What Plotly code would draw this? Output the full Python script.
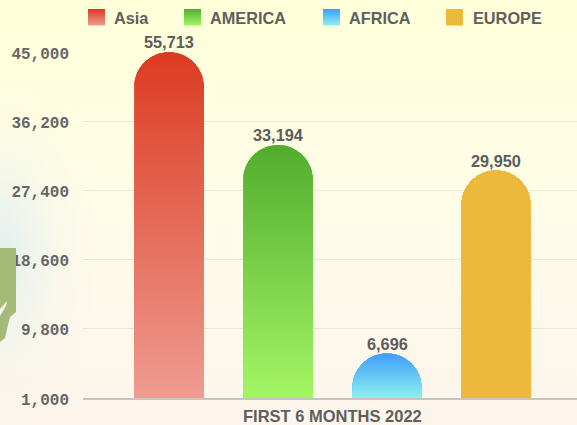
import base64
import numpy as np
import plotly.graph_objects as go

# ---- data ----
categories = ["Asia", "AMERICA", "AFRICA", "EUROPE"]
values = [55713, 33194, 6696, 29950]
tick_values = [1000, 9800, 18600, 27400, 36200, 45000]
x_title = "FIRST 6 MONTHS 2022"

top_colors = ["#dc3b21", "#52ac2e", "#3f9dfb", "#edb93d"]
bottom_colors = ["#ef9c91", "#a5f665", "#8cf1f0", "#edb93d"]
mid_colors = ["#e56a57", "#79cf49", "#66c6f5", "#edb93d"]

W, H = 577, 425
PL, PT, PB = 83, 52, 398       # plot box in pixels
STEP = 109                     # pixels between bars
BAR_W = 70
FIRST = 169
Y_MIN, Y_MAX = tick_values[0], tick_values[-1]
shown = [min(v, Y_MAX) for v in values]

x_lo = (PL - FIRST) / STEP
x_hi = (W - FIRST) / STEP
ux = 1 / STEP
uy = (Y_MAX - Y_MIN) / (PB - PT)

svg = f'''<svg xmlns="http://www.w3.org/2000/svg" width="{W}" height="{H}">
<defs>
<linearGradient id="a" x1="0" y1="0" x2="0" y2="1">
<stop offset="0" stop-color="#ffffd9"/><stop offset="0.5" stop-color="#fffce8"/><stop offset="1" stop-color="#fdf5ec"/>
</linearGradient>
<radialGradient id="b" gradientUnits="userSpaceOnUse" cx="0" cy="0" r="100" gradientTransform="translate(0,255) scale(1,1.8)">
<stop offset="0" stop-color="#e3eff0" stop-opacity="1"/><stop offset="0.3" stop-color="#e3eff0" stop-opacity="0.55"/>
<stop offset="0.6" stop-color="#e3eff0" stop-opacity="0.2"/><stop offset="1" stop-color="#e3eff0" stop-opacity="0"/>
</radialGradient>
</defs>
<rect width="{W}" height="{H}" fill="url(#a)"/><rect width="{W}" height="{H}" fill="url(#b)"/>
</svg>'''
bg = "data:image/svg+xml;base64," + base64.b64encode(svg.encode()).decode()

fig = go.Figure()

fig.add_trace(go.Bar(
    x=list(range(len(categories))), y=shown,
    width=BAR_W / STEP,
    marker=dict(color=mid_colors, cornerradius=35, line=dict(width=0)),
    hovertext=categories, showlegend=False,
))

theta = np.linspace(np.pi, 0, 61)
for i, s in enumerate(shown):
    if top_colors[i] == bottom_colors[i]:
        continue
    r = BAR_W / 2
    xs = i + r * ux * np.cos(theta)
    ys = s - r * uy + r * uy * np.sin(theta)
    px = [i - r * ux, *xs, i + r * ux, i - r * ux]
    py = [Y_MIN, *ys, Y_MIN, Y_MIN]
    fig.add_trace(go.Scatter(
        x=px, y=py, mode="lines", line=dict(width=0), fill="toself",
        fillgradient=dict(type="vertical",
                          colorscale=[[0, bottom_colors[i]], [1, top_colors[i]]]),
        hoverinfo="skip", showlegend=False,
    ))

# legend swatches on a full-page pixel axis
swatch_x = [88, 184, 323, 446]
text_x = [112, 208, 347, 471]
annotations = []
for i, c in enumerate(categories):
    x0, x1, y0, y1 = swatch_x[i], swatch_x[i] + 17, 9, 25.5
    fig.add_trace(go.Scatter(
        x=[x0, x1, x1, x0, x0], y=[y0, y0, y1, y1, y0], xaxis="x2", yaxis="y2",
        mode="lines", line=dict(width=0), fill="toself",
        fillgradient=dict(type="vertical",
                          colorscale=[[0, bottom_colors[i]], [1, top_colors[i]]]),
        hoverinfo="skip", showlegend=False,
    ))
    annotations.append(dict(
        x=text_x[i] / W, y=1 - 18 / H, xref="paper", yref="paper", xanchor="left", yanchor="middle",
        text=f"<b>{c}</b>", showarrow=False,
        font=dict(family="Liberation Sans", size=16.3, color="#5f5f5f"),
    ))
    annotations.append(dict(
        x=i, y=shown[i], xref="x", yref="y", xanchor="center", yanchor="bottom", yshift=-1.5,
        text=f"<b>{values[i]:,}</b>", showarrow=False,
        font=dict(family="Liberation Sans", size=16.3, color="#5c5c5c"),
    ))
annotations.append(dict(
    x=332.5 / W, y=1 - 416 / H, xref="paper", yref="paper", xanchor="center", yanchor="middle",
    text=f"<b>{x_title}</b>", showarrow=False,
    font=dict(family="Liberation Sans", size=16.5, color="#5f5f5f"),
))

shapes = [
    dict(type="path", xref="x2", yref="y2", layer="below", line=dict(width=0), fillcolor="#a4bb78",
         path="M0,248 L16,248 L16,312 L10,317 L8,325 L5,338 L0,342 Z"),
    dict(type="path", xref="x2", yref="y2", layer="below", line=dict(width=0), fillcolor="#f3f6ee",
         path="M0,309 L7,301 L6,306 L0,316 Z"),
]

fig.update_layout(
    template="none",
    width=W, height=H, margin=dict(l=0, r=0, t=0, b=0, pad=0), autosize=False,
    paper_bgcolor="#fffce8", plot_bgcolor="rgba(0,0,0,0)", showlegend=False,
    bargap=0,
    xaxis=dict(domain=[PL / W, 1], range=[x_lo, x_hi], showticklabels=False, ticks="",
               showgrid=False, zeroline=False, showline=True, linecolor="#c9c5ba", linewidth=1.5,
               fixedrange=True, automargin=False),
    yaxis=dict(domain=[1 - PB / H, 1 - PT / H], range=[Y_MIN, Y_MAX], tickmode="array",
               tickvals=tick_values, ticktext=[f"{t:,}" for t in tick_values],
               ticks="", ticklabelstandoff=13, ticklabelshift=1, showgrid=True, gridcolor="rgba(190,180,150,0.28)",
               gridwidth=1, zeroline=False, showline=False, fixedrange=True, automargin=False,
               tickfont=dict(family="Liberation Mono", size=16, color="#666666", weight="bold")),
    xaxis2=dict(domain=[0, 1], range=[0, W], anchor="y2", visible=False, fixedrange=True, automargin=False),
    yaxis2=dict(domain=[0, 1], range=[H, 0], anchor="x2", visible=False, fixedrange=True, automargin=False),
    images=[dict(source=bg, xref="paper", yref="paper", x=0, y=1, sizex=1, sizey=1,
                 xanchor="left", yanchor="top", sizing="stretch", layer="below")],
    shapes=shapes, annotations=annotations,
)

fig.write_html("out.html", config={"displayModeBar": False},
               post_script="document.body.style.margin='0';document.documentElement.style.overflow='hidden';")
